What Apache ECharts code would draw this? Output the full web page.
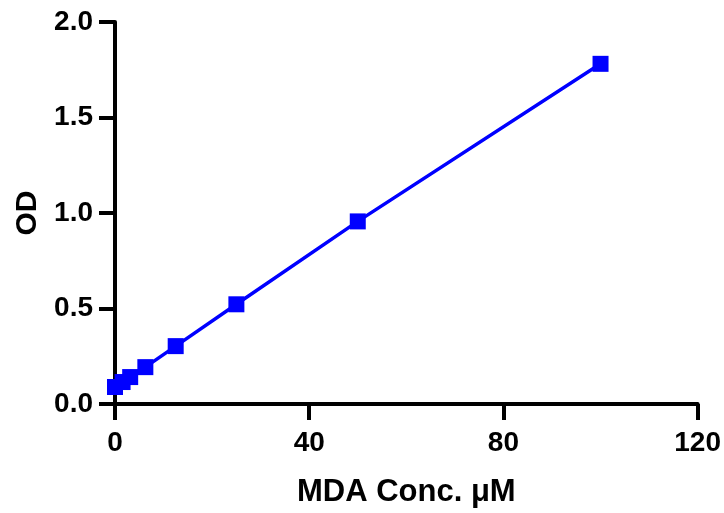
<!DOCTYPE html>
<html>
<head>
<meta charset="utf-8">
<script src="https://cdn.jsdelivr.net/npm/echarts@6/dist/echarts.min.js"></script>
<style>html,body{margin:0;padding:0;background:#fff;}#c{width:724px;height:513px;}</style>
</head>
<body>
<div id="c"></div>
<script>
var concentrations = [0, 1.5625, 3.125, 6.25, 12.5, 25, 50, 100];
var odValues = [0.089, 0.115, 0.141, 0.193, 0.303, 0.522, 0.956, 1.781];
var xTicks = [0, 40, 80, 120];
var yTicks = [0.0, 0.5, 1.0, 1.5, 2.0];

var points = concentrations.map(function (c, i) { return [c, odValues[i]]; });
var font = 'Liberation Sans, Arial, sans-serif';
var chart = echarts.init(document.getElementById('c'));
chart.setOption({
  animation: false,
  backgroundColor: '#fff',
  grid: { left: 115, right: 23, top: 22, bottom: 107, containLabel: false },
  xAxis: {
    type: 'value', min: xTicks[0], max: xTicks[xTicks.length - 1], interval: 40,
    name: 'MDA Conc. \u03bcM', nameLocation: 'middle', nameGap: 73,
    nameTextStyle: { fontFamily: font, fontWeight: 'bold', fontSize: 31, color: '#000' },
    axisLine: { show: true, lineStyle: { color: '#000', width: 4 } },
    axisTick: { show: true, inside: false, length: 16, lineStyle: { color: '#000', width: 4 } },
    axisLabel: { margin: 25, fontFamily: font, fontWeight: 'bold', fontSize: 28, color: '#000' },
    splitLine: { show: false }
  },
  yAxis: {
    type: 'value', min: yTicks[0], max: yTicks[yTicks.length - 1], interval: 0.5,
    name: 'OD', nameLocation: 'middle', nameGap: 71,
    nameTextStyle: { fontFamily: font, fontWeight: 'bold', fontSize: 30, color: '#000' },
    axisLine: { show: true, lineStyle: { color: '#000', width: 4 } },
    axisTick: { show: true, inside: false, length: 16, lineStyle: { color: '#000', width: 4 } },
    axisLabel: { margin: 22, fontFamily: font, fontWeight: 'bold', fontSize: 28, color: '#000',
      formatter: function (v) { return v.toFixed(1); } },
    splitLine: { show: false }
  },
  series: [{
    type: 'line',
    data: points,
    symbol: 'rect',
    symbolSize: 16,
    lineStyle: { color: '#0000ff', width: 3.5 },
    itemStyle: { color: '#0000ff' },
    z: 5
  }]
});
</script>
</body>
</html>
